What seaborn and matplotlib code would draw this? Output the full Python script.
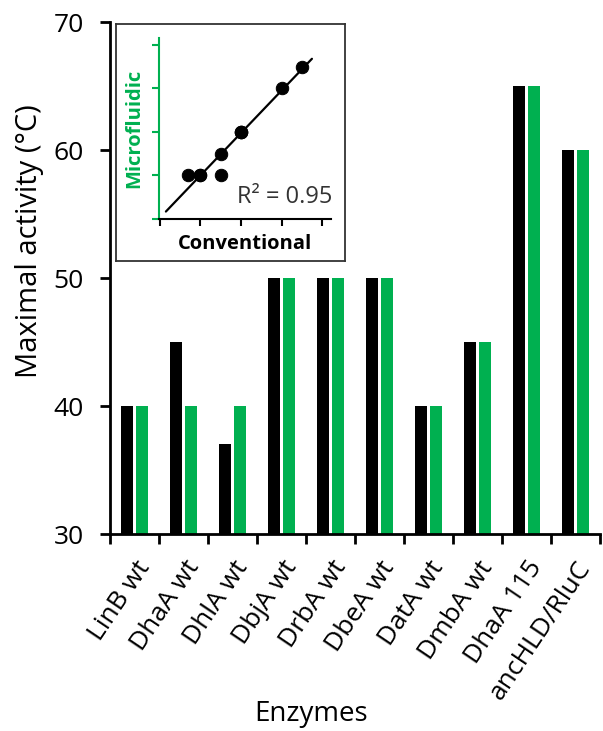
import numpy as np
import pandas as pd
import matplotlib
matplotlib.use("Agg")
import matplotlib.pyplot as plt
import seaborn as sns

sns.set_theme(style="white")
plt.rcParams['font.family'] = ['Open Sans', 'DejaVu Sans']
plt.rcParams['text.color'] = 'black'
plt.rcParams['axes.labelcolor'] = 'black'
plt.rcParams['xtick.color'] = 'black'
plt.rcParams['ytick.color'] = 'black'

enzymes = ["LinB wt", "DhaA wt", "DhlA wt", "DbjA wt", "DrbA wt",
           "DbeA wt", "DatA wt", "DmbA wt", "DhaA 115", "ancHLD/RluC"]
conventional = [40, 45, 37, 50, 50, 50, 40, 45, 65, 60]
microfluidic = [40, 40, 40, 50, 50, 50, 40, 45, 65, 60]
methods = ["Conventional", "Microfluidic"]
r2_text = "R² = 0.95"

green = "#00B050"

df = pd.DataFrame({
    "enzyme": enzymes * 2,
    "method": [methods[0]] * len(enzymes) + [methods[1]] * len(enzymes),
    "temp": conventional + microfluidic,
})

W, H = 603, 731
fig = plt.figure(figsize=(W / 100, H / 100), dpi=100)

# main bar chart
ax = fig.add_axes([110 / W, (H - 534) / H, 490 / W, 512 / H])
sns.barplot(data=df, x="enzyme", y="temp", hue="method", order=enzymes,
            palette=["black", green], saturation=1, width=0.6, gap=0.23,
            linewidth=0, legend=False, ax=ax)
ax.set_ylim(30, 70)
ax.set_xlim(-0.5, len(enzymes) - 0.5)
ax.set_yticks([30, 40, 50, 60, 70])
for s in ["top", "right"]:
    ax.spines[s].set_visible(False)
for s in ["left", "bottom"]:
    ax.spines[s].set_linewidth(2)
    ax.spines[s].set_color("black")
ax.set_xticks(np.arange(len(enzymes) + 1) - 0.5, minor=True)
ax.tick_params(axis="x", which="major", length=0, pad=16, labelsize=19)
ax.tick_params(axis="x", which="minor", length=7, width=2, direction="out",
               bottom=True, color="black")
ax.tick_params(axis="y", length=7, width=2, direction="out", left=True,
               labelsize=19, color="black", pad=12)
plt.setp(ax.get_xticklabels(), rotation=56, ha="right", rotation_mode="anchor")
ax.set_xlabel("Enzymes", fontsize=20)
ax.xaxis.set_label_coords(0.41, -0.325)
ax.set_ylabel("Maximal activity (°C)", fontsize=21)
ax.yaxis.set_label_coords(-0.135, 0.572)

# inset frame
frame = fig.add_axes([116 / W, (H - 261) / H, 229 / W, 237 / H])
frame.set_xticks([])
frame.set_yticks([])
for s in frame.spines.values():
    s.set_linewidth(1.3)
    s.set_color("#333333")
frame.set_facecolor("white")

# inset scatter
ins = fig.add_axes([159 / W, (H - 219) / H, 172 / W, 181 / H])
ins.set_facecolor("none")
sns.scatterplot(x=conventional, y=microfluidic, color="black", s=80,
                edgecolor="black", ax=ins, zorder=3)
slope, intercept = np.polyfit(conventional, microfluidic, 1)
xs = np.array([31.5, 67.5])
ins.plot(xs, slope * xs + intercept, color="black", lw=1.6)
ins.set_xlim(29.8, 72.2)
ins.set_ylim(30, 71.6)
ins.set_xticks([30, 40, 50, 60, 70])
ins.set_yticks([30, 40, 50, 60, 70])
ins.set_xticklabels([])
ins.set_yticklabels([])
for s in ["top", "right"]:
    ins.spines[s].set_visible(False)
ins.spines["bottom"].set_linewidth(1.5)
ins.spines["bottom"].set_color("black")
ins.spines["left"].set_linewidth(1.5)
ins.spines["left"].set_color(green)
ins.tick_params(axis="x", length=5, width=1.5, direction="out", bottom=True,
                color="black")
ins.tick_params(axis="y", length=5, width=1.5, direction="out", left=True,
                color=green)
ins.set_xlabel("Conventional", fontsize=14.5, fontweight="bold", labelpad=2)
ins.set_ylabel("Microfluidic", fontsize=14.5, fontweight="bold", color=green,
               labelpad=2)
ins.text(72.5, 35, r2_text, ha="right", va="center", fontsize=17,
         color="#333333")

fig.savefig("out.png", dpi=100)
